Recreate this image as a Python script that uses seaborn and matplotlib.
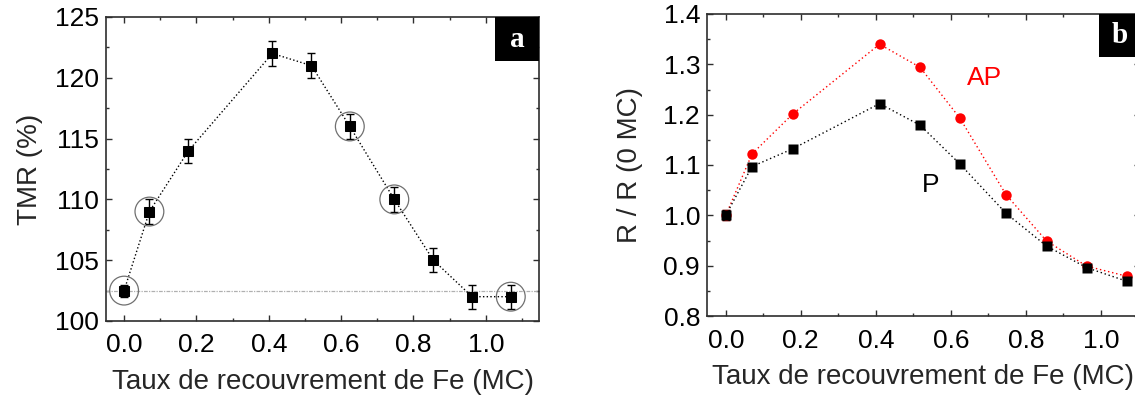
import matplotlib
matplotlib.use("Agg")
import matplotlib.pyplot as plt
from matplotlib.patches import Rectangle
from matplotlib.ticker import MultipleLocator, FormatStrFormatter
import pandas as pd
import seaborn as sns

# -- data --------------------------------------------------------------------

coverage = [0.0, 0.07, 0.178, 0.41, 0.518, 0.624, 0.747, 0.855, 0.962, 1.069]

tmr = [102.5, 109, 114, 122, 121, 116, 110, 105, 102, 102]
tmr_err = [0.5, 1, 1, 1, 1, 1, 1, 1, 1, 1]
circled = [0, 1, 5, 6, 9]
tmr_ref = 102.5

r_ap = [1.0, 1.122, 1.201, 1.340, 1.294, 1.193, 1.041, 0.949, 0.899, 0.879]
r_p = [1.0, 1.097, 1.132, 1.222, 1.179, 1.102, 1.004, 0.939, 0.896, 0.869]
r_err = [0.01, 0, 0, 0, 0, 0, 0, 0, 0, 0]

# -- style -------------------------------------------------------------------

sns.set_style("ticks")
plt.rcParams["font.family"] = ["Liberation Sans", "DejaVu Sans"]
plt.rcParams.update({
    "axes.edgecolor": "#2e2e2e",
    "axes.linewidth": 1.2,
    "xtick.direction": "in",
    "ytick.direction": "in",
    "xtick.top": True,
    "ytick.right": True,
    "xtick.major.size": 4.5,
    "ytick.major.size": 4.5,
    "xtick.minor.size": 2.5,
    "ytick.minor.size": 2.5,
    "xtick.major.width": 1.0,
    "ytick.major.width": 1.0,
    "xtick.minor.width": 1.0,
    "ytick.minor.width": 1.0,
    "xtick.color": "#2e2e2e",
    "ytick.color": "#2e2e2e",
    "xtick.labelcolor": "black",
    "ytick.labelcolor": "black",
    "xtick.labelsize": 19,
    "ytick.labelsize": 19,
    "axes.labelsize": 20,
    "xtick.major.pad": 9,
    "ytick.major.pad": 5,
})

W, H = 1135, 396
fig = plt.figure(figsize=(W / 100, H / 100), dpi=100)


def px_axes(x0, x1, ytop, ybot):
    return fig.add_axes([x0 / W, (H - ybot) / H, (x1 - x0) / W, (ybot - ytop) / H])


def tag(ax, letter, x0, w, h):
    ax.add_patch(Rectangle((x0, 1 - h), w, h, transform=ax.transAxes,
                           facecolor="black", edgecolor="none", zorder=5,
                           clip_on=False))
    ax.text(x0 + w / 2, 1 - h / 2, letter, transform=ax.transAxes,
            ha="center", va="center", color="white", fontsize=21,
            fontweight="bold", family="Liberation Serif", zorder=6)


# -- panel a -----------------------------------------------------------------

df_a = pd.DataFrame({"x": coverage, "tmr": tmr})
ax1 = px_axes(106, 539, 17, 321)
ax1.axhline(tmr_ref, color="#b0b0b0", lw=0.9, ls=(0, (3, 1, 1, 1)), zorder=1)
sns.lineplot(data=df_a, x="x", y="tmr", sort=False, color="black",
             linestyle=":", lw=1.0, marker="s", markersize=7,
             markeredgecolor="black", ax=ax1, zorder=3)
ax1.errorbar(coverage, tmr, yerr=tmr_err, fmt="none", ecolor="black",
             elinewidth=1.0, capsize=3, capthick=1.0, zorder=2)
sns.scatterplot(x=[coverage[i] for i in circled], y=[tmr[i] for i in circled],
                s=430, facecolor="none", edgecolor="#707070", linewidth=0.9,
                ax=ax1, zorder=4)
ax1.set_xlim(-0.05, 1.147)
ax1.set_ylim(100, 125)
ax1.xaxis.set_major_locator(MultipleLocator(0.2))
ax1.xaxis.set_minor_locator(MultipleLocator(0.1))
ax1.yaxis.set_major_locator(MultipleLocator(5))
ax1.yaxis.set_minor_locator(MultipleLocator(2.5))
ax1.xaxis.set_major_formatter(FormatStrFormatter("%.1f"))
ax1.set_xlabel("Taux de recouvrement de Fe (MC)", labelpad=8)
ax1.set_ylabel("TMR (%)", labelpad=9)
tag(ax1, "a", 0.898, 0.102, 0.145)

# -- panel b -----------------------------------------------------------------

df_b = pd.DataFrame({"x": coverage * 2, "r": r_ap + r_p,
                     "state": ["AP"] * len(r_ap) + ["P"] * len(r_p)})
ax2 = px_axes(707, 1140, 14, 316)
sns.lineplot(data=df_b, x="x", y="r", hue="state", style="state", sort=False,
             palette={"AP": "red", "P": "black"},
             markers={"AP": "o", "P": "s"}, dashes={"AP": (1, 2), "P": (1, 2)},
             lw=1.0, markersize=7.5, markeredgecolor="none", legend=False,
             ax=ax2)
ax2.errorbar(coverage[:1], r_ap[:1], yerr=r_err[:1], fmt="none", ecolor="red",
             elinewidth=1.0, capsize=3, zorder=1)
ax2.errorbar(coverage[:1], r_p[:1], yerr=r_err[:1], fmt="none", ecolor="black",
             elinewidth=1.0, capsize=3, zorder=1)
ax2.set_xlim(-0.05, 1.104)
ax2.set_ylim(0.8, 1.4)
ax2.xaxis.set_major_locator(MultipleLocator(0.2))
ax2.xaxis.set_minor_locator(MultipleLocator(0.1))
ax2.yaxis.set_major_locator(MultipleLocator(0.1))
ax2.yaxis.set_minor_locator(MultipleLocator(0.05))
ax2.xaxis.set_major_formatter(FormatStrFormatter("%.1f"))
ax2.yaxis.set_major_formatter(FormatStrFormatter("%.1f"))
ax2.text(0.69, 1.273, "AP", color="red", fontsize=19, ha="center", va="center")
ax2.text(0.545, 1.06, "P", color="black", fontsize=19, ha="center", va="center")
ax2.set_xlabel("Taux de recouvrement de Fe (MC)", labelpad=8)
ax2.set_ylabel("R / R (0 MC)", labelpad=15)
tag(ax2, "b", 0.905, 0.095, 0.142)

fig.savefig("out.png", dpi=100)
